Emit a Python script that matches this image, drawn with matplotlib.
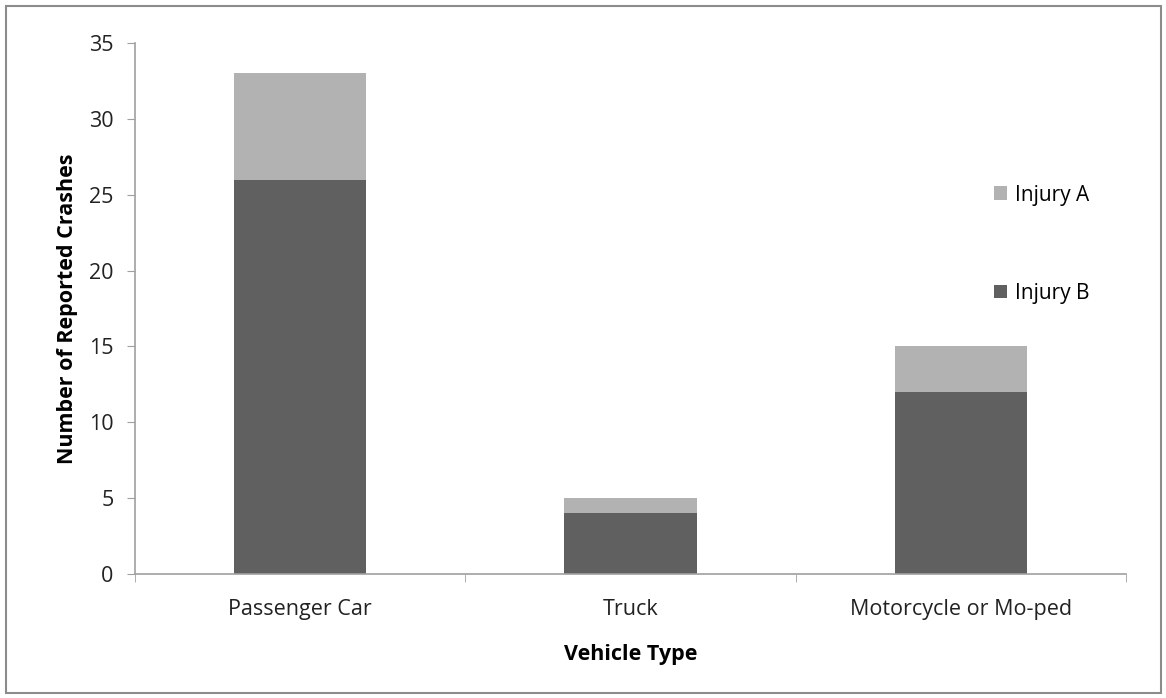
import matplotlib.pyplot as plt
from matplotlib.patches import Rectangle
import numpy as np

# données
vehicles = ["Passenger Car", "Truck", "Motorcycle or Mo-ped"]
injury_b = [26, 4, 12]
injury_a = [7, 1, 3]

col_b = "#606060"
col_a = "#b2b2b2"
axis_col = "#a0a0a0"

plt.rcParams["font.family"] = ["Open Sans", "DejaVu Sans"]

W, H = 1166, 698
fig = plt.figure(figsize=(W / 100, H / 100), dpi=100)
ax = fig.add_axes([135 / W, 1 - 574 / H, (1126 - 135) / W, (574 - 43) / H])

x = np.arange(len(vehicles))
ax.bar(x, injury_b, width=0.4, color=col_b, label="Injury B")
ax.bar(x, injury_a, width=0.4, bottom=injury_b, color=col_a, label="Injury A")

ax.set_xlim(-0.5, 2.5)
ax.set_ylim(0, 35)
ax.set_yticks(range(0, 36, 5))
ax.set_xticks(x)
ax.set_xticklabels(vehicles, fontsize=15.5, color="#222222")
ax.tick_params(axis="x", length=0, pad=18)
ax.tick_params(axis="y", labelsize=15.5, labelcolor="#222222", length=5.5,
               color=axis_col, pad=10)
# ticks entre catégories
ax.set_xticks([-0.5, 0.5, 1.5, 2.5], minor=True)
ax.tick_params(axis="x", which="minor", length=5.5, color=axis_col, direction="out")

for s in ["top", "right"]:
    ax.spines[s].set_visible(False)
for s in ["left", "bottom"]:
    ax.spines[s].set_color(axis_col)
    ax.spines[s].set_linewidth(1.2)

ax.set_xlabel("Vehicle Type", fontsize=15.5, fontweight="bold", labelpad=17)
ax.set_ylabel("Number of Reported Crashes", fontsize=15.5, fontweight="bold", labelpad=8)

h, l = ax.get_legend_handles_labels()
ax.legend(h[::-1], l[::-1], loc="upper left", bbox_to_anchor=(975 / W, 1 - 166 / H),
          bbox_transform=fig.transFigure, frameon=False, fontsize=15,
          labelspacing=3.7, handlelength=0.65, handleheight=0.65, handletextpad=0.35)

fig.patches.append(Rectangle((5.5 / W, 5.5 / H), (W - 11) / W, (H - 11) / H,
                             transform=fig.transFigure, fill=False,
                             edgecolor="#8c8c8c", linewidth=1.5))

fig.savefig("out.png", dpi=100)
